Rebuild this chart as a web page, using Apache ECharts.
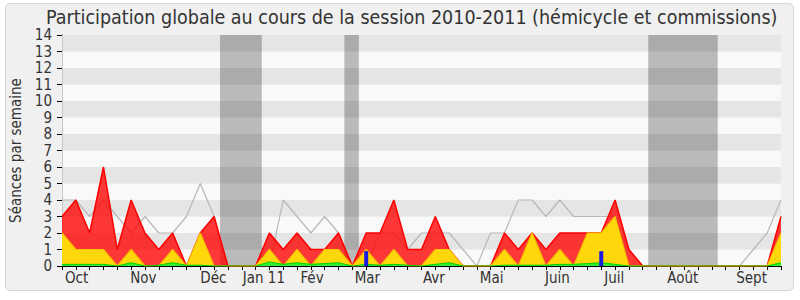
<!DOCTYPE html>
<html>
<head>
<meta charset="utf-8">
<script src="https://cdn.jsdelivr.net/npm/echarts@6/dist/echarts.min.js"></script>
<style>
html,body{margin:0;padding:0;background:#ffffff;}
#frame{position:absolute;left:5px;top:3px;width:787px;height:286px;background:#f0f0f0;border:1px solid #d6d6d6;border-radius:5px;}
#chart{position:absolute;left:0;top:0;width:800px;height:300px;}
</style>
</head>
<body>
<div id="frame"></div>
<div id="chart"></div>
<script>
// Weekly values, week index 0..52
const totalSeances = [3,4,2,6,1,4,2,1,2,0,2,3,0,0,0,2,1,2,1,1,2,0,2,2,4,1,1,3,1,0,0,0,2,1,2,1,2,2,2,2,4,1,0,0,0,0,0,0,0,0,0,0,3];
const hemicycle    = [2,1,1,1,0,1,0,0,1,0,2,0,0,0,0,1,0,1,0,1,1,0,1,0,1,0,0,1,1,0,0,0,1,0,2,0,1,0,2,2,3,0,0,0,0,0,0,0,0,0,0,0,2];
const interventions= [0.1,0.1,0.1,0.1,0,0.2,0,0.05,0.2,0.05,0.05,0,0,0,0,0.25,0.1,0.2,0.1,0.15,0.2,0,0.1,0.05,0.1,0.05,0,0.1,0.2,0,0,0,0.05,0.05,0.05,0.05,0.1,0.1,0.15,0.2,0.1,0,0,0,0,0,0,0,0,0,0,0,0.2];
const medianeDeputes=[4,4,3,4,3,2,3,2,2,3,5,3,0,0,0,0,4,3,2,3,2,0,0,2,2,1,2,2,2,1,0,2,2,4,4,3,4,3,3,3,3,0,0,0,0,0,0,0,0,0,1,2,4];
const questionsWeeks = [22,39];
const questionsValues = [0.9,0.9];
const vacations = [[11.43,14.45],[20.42,21.47],[42.4,47.42]];
const monthPositions = [1.06,5.88,10.95,14.6,18.08,22.09,26.9,31.07,35.83,39.94,44.9,49.87];
const monthLabels = ['Oct','Nov','Déc','Jan 11','Fév','Mar','Avr','Mai','Juin','Juil','Août','Sept'];
const yTicks = [0,1,2,3,4,5,6,7,8,9,10,11,12,13,14];

const FONT = '"DejaVu Sans Condensed", "DejaVu Sans"';
const pairs = arr => arr.map((v,i)=>[i,v]);
const weekTicks = totalSeances.map((_,i)=>i);

const chart = echarts.init(document.getElementById('chart'), null, {renderer:'svg'});
chart.setOption({
  backgroundColor: 'transparent',
  animation: false,
  textStyle: {fontFamily: FONT},
  title: {
    text: 'Participation globale au cours de la session 2010-2011 (hémicycle et commissions)',
    left: 46, top: 8, padding: 0,
    textStyle: {fontFamily: FONT, fontSize: 19.5, lineHeight: 19, fontWeight: 'normal', color: '#333'}
  },
  grid: {left: 62, right: 19, top: 35, bottom: 34},
  xAxis: [{
    type: 'value', min: 0, max: 52, interval: 1, position: 'bottom',
    axisLine: {show: true, lineStyle: {color: '#000', width: 1}},
    axisTick: {show: true, length: 4, inside: false, lineStyle: {color: '#000'}, customValues: weekTicks},
    axisLabel: {show: true, customValues: monthPositions, margin: 4, fontSize: 15, color: '#333', fontFamily: FONT,
      formatter: v => { const k = monthPositions.findIndex(p => Math.abs(p - v) < 1e-6); return k >= 0 ? monthLabels[k] : ''; }},
    splitLine: {show: false}
  },{
    type: 'value', min: 0, max: 52, interval: 1, position: 'top',
    axisLine: {show: false},
    axisTick: {show: true, inside: true, length: 2, lineStyle: {color: '#000'}},
    axisLabel: {show: false},
    splitLine: {show: false}
  }],
  yAxis: [{
    type: 'value', min: 0, max: 14, interval: 1, position: 'left',
    name: 'Séances par semaine', nameLocation: 'middle', nameGap: 36,
    nameTextStyle: {fontFamily: FONT, fontSize: 15, color: '#333'},
    axisLine: {show: true, lineStyle: {color: '#000', width: 1}},
    axisTick: {show: true, length: 5, lineStyle: {color: '#000'}},
    axisLabel: {margin: 10, fontSize: 15, color: '#333', fontFamily: FONT,
      formatter: v => yTicks.includes(v) ? String(v) : ''},
    splitLine: {show: false},
    splitArea: {show: true, areaStyle: {color: ['#f9f9f9', '#e5e5e5']}}
  },{
    type: 'value', min: 0, max: 14, interval: 1, position: 'right',
    axisLine: {show: true, lineStyle: {color: '#c8c8c8', width: 1}},
    axisTick: {show: false}, axisLabel: {show: false}, splitLine: {show: false}
  }],
  series: [
    {
      name: 'vacances', type: 'line', data: [], z: 1, silent: true,
      markArea: {silent: true, itemStyle: {color: 'rgba(0,0,0,0.25)'},
        data: vacations.map(v => [{xAxis: v[0]}, {xAxis: v[1]}])}
    },
    {
      name: 'médiane', type: 'line', data: pairs(medianeDeputes), z: 2,
      symbol: 'none', lineStyle: {color: '#b8b8b8', width: 1.2}
    },
    {
      name: 'total', type: 'line', data: pairs(totalSeances), z: 3,
      symbol: 'none', lineStyle: {color: '#ff0000', width: 1.5},
      areaStyle: {color: 'rgba(255,0,0,0.78)', opacity: 1}
    },
    {
      name: 'hémicycle', type: 'line', data: pairs(hemicycle), z: 4,
      symbol: 'none', lineStyle: {color: '#f5c400', width: 1.2},
      areaStyle: {color: '#ffd70a', opacity: 1}
    },
    {
      name: 'interventions', type: 'line', data: pairs(interventions), z: 5,
      symbol: 'none', lineStyle: {color: '#00d000', width: 1},
      areaStyle: {color: '#33ee33', opacity: 1}
    },
    {
      name: 'questions', type: 'bar', data: questionsWeeks.map((w,i)=>[w, questionsValues[i]]), z: 6,
      barWidth: 4, itemStyle: {color: '#1c1ce0'}
    }
  ]
});
</script>
</body>
</html>
